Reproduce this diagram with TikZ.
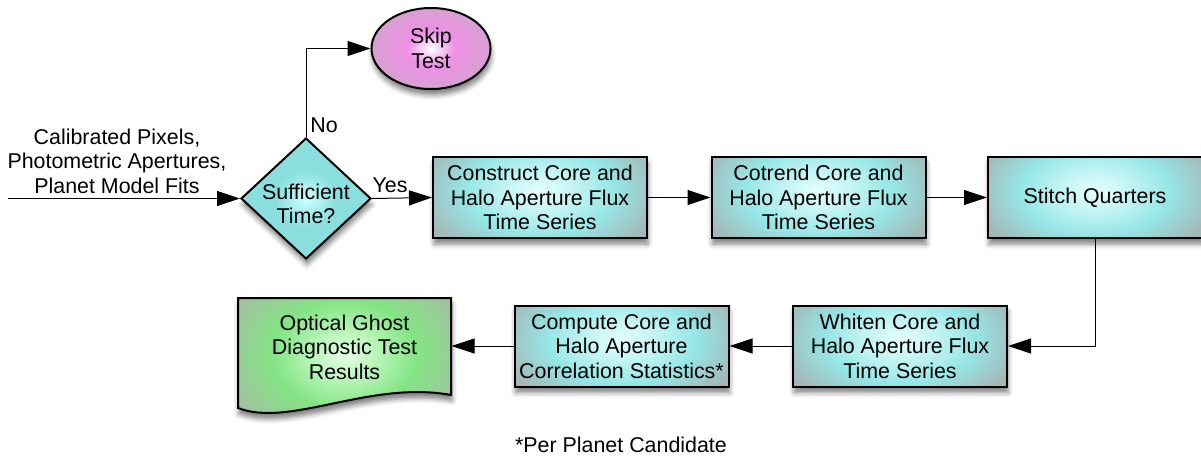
\documentclass[tikz,border=0pt]{standalone}
\usepackage{fontspec}
\setmainfont{Liberation Sans}
\usetikzlibrary{arrows.meta,shapes.geometric,shadows.blur}

\definecolor{boxgray}{HTML}{A4B6B6}
\definecolor{boxlight}{HTML}{C4F4F4}
\definecolor{boxcyan}{HTML}{96E6E6}
\definecolor{diacyan}{HTML}{8ADEDE}
\definecolor{skippink}{HTML}{EE90E6}
\definecolor{skipedge}{HTML}{D8A0D2}
\definecolor{doclight}{HTML}{B4F4B4}
\definecolor{docgreen}{HTML}{84E484}
\definecolor{docgray}{HTML}{A2C0A2}

\pgfdeclareradialshading{procshade}{\pgfpoint{0bp}{0bp}}{color(0bp)=(white!90!cyan); color(7bp)=(boxlight); color(15bp)=(boxcyan); color(25bp)=(boxgray); color(50bp)=(boxgray)}
\pgfdeclareradialshading{decshade}{\pgfpoint{0bp}{0bp}}{color(0bp)=(white!80!cyan); color(12bp)=(diacyan); color(50bp)=(diacyan)}
\pgfdeclareradialshading{skipshade}{\pgfpoint{0bp}{0bp}}{color(0bp)=(white); color(10bp)=(skippink); color(25bp)=(skipedge); color(50bp)=(skipedge)}
\pgfdeclareradialshading{docshade}{\pgfpoint{0bp}{0bp}}{color(0bp)=(white!90!green); color(7bp)=(doclight); color(14bp)=(docgreen); color(25bp)=(docgray); color(50bp)=(docgray)}

\tikzset{every picture/.style={line width=0.5pt},
  txt/.style={font=\fontsize{10.7}{12.3}\selectfont, align=center, inner sep=1pt},
  shade box/.style={blur shadow={shadow xshift=0.5pt, shadow yshift=-3pt, shadow blur radius=2.5pt, shadow opacity=50}},
  proc/.style={txt, draw, line width=1pt, shade box, fill=boxgray,
    path picture={\shade[shading=procshade] ([yshift=3pt]path picture bounding box.center)
      ellipse [x radius=62pt, y radius=36pt];},
    minimum width=107pt, minimum height=40.5pt},
  decision/.style={diamond, draw, line width=1pt, shade box, shading=decshade,
    minimum width=65pt, minimum height=60.5pt, inner sep=0pt},
  stop/.style={ellipse, txt, draw, line width=1pt, shade box, shading=skipshade,
    minimum width=59.5pt, minimum height=40.5pt},
  flow/.style={-{Triangle[length=11.5pt,width=7.5pt,fill=black]}, draw=black, opacity=1}}

\begin{document}
\begin{tikzpicture}[x=0.5pt, y=-0.5pt]
    \useasboundingbox (0,0) rectangle (1201,456);
    % input and decision
    \coordinate (src) at (8,198.5);
    \node[txt] (inputs) at (117,161) {Calibrated Pixels,\\Photometric Apertures,\\Planet Model Fits};
    \node[decision] (suff) at (306,198.5) {};
    \node[txt] (sufftext) at (306,204) {Sufficient\\Time?};
    \node[stop] (skip) at (431,48.5) {Skip\\Test};
    % processing steps
    \node[proc] (core) at (540,197.5) {Construct Core and\\Halo Aperture Flux\\Time Series};
    \node[proc] (cotrend) at (818.5,197.5) {Cotrend Core and\\Halo Aperture Flux\\Time Series};
    \node[proc] (stitch) at (1095,197.5) {Stitch Quarters};
    \node[proc] (whiten) at (900,346) {Whiten Core and\\Halo Aperture Flux\\Time Series};
    \node[proc] (corr) at (621.5,346) {Compute Core and\\Halo Aperture\\Correlation Statistics*};
    % output document
    \path[shade box, fill=docgray, path picture={\shade[shading=docshade]
        ([yshift=4pt]path picture bounding box.center) ellipse [x radius=64pt, y radius=48pt];}]
        (238,298) -- (451,298) -- (451,395)
        .. controls (370,380) and (290,428) .. (238,408) -- cycle;
    \draw[line width=1pt] (238,298) -- (451,298) -- (451,395)
        .. controls (370,380) and (290,428) .. (238,408) -- cycle;
    \node[txt, minimum width=106.5pt, inner sep=0pt] (results) at (344.5,347) {Optical Ghost\\Diagnostic Test\\Results};
    \node[txt] (note) at (621,445) {*Per Planet Candidate};
    % connectors
    \draw[flow] (src) -- (suff.west);
    \draw[flow] (suff.north) |- (skip.west);
    \node[txt] (no) at (324,125) {No};
    \draw[flow] (suff.east) -- (core.west);
    \node[txt] (yes) at (390,185) {Yes};
    \draw[flow] (core) -- (cotrend);
    \draw[flow] (cotrend) -- (stitch);
    \draw[flow] (stitch.south) |- (whiten.east);
    \draw[flow] (whiten) -- (corr);
    \draw[flow] (corr.west) -- (corr.west -| results.east);
\end{tikzpicture}
\end{document}
